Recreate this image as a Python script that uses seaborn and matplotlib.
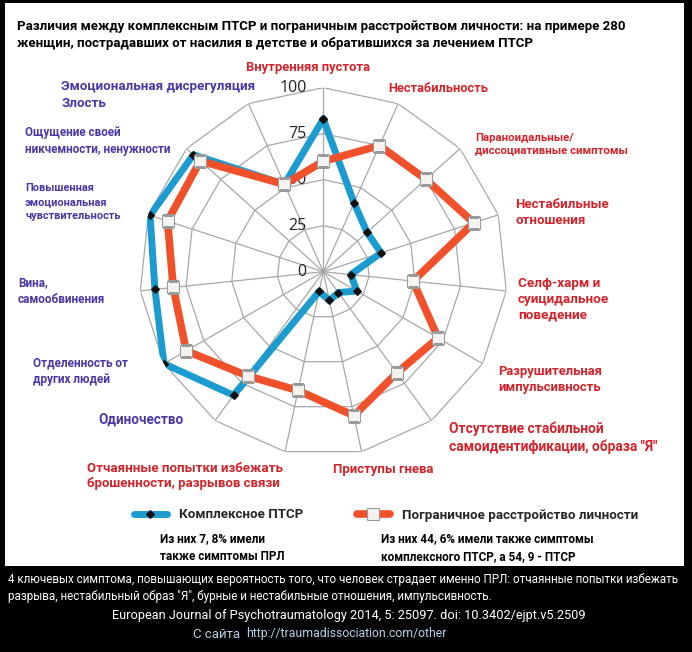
import numpy as np
import pandas as pd
import matplotlib
matplotlib.use("Agg")
import matplotlib.pyplot as plt
import seaborn as sns
from matplotlib.patches import Rectangle

sns.set_theme(style="white")
plt.rcParams['font.family'] = ['Roboto', 'DejaVu Sans']

# ---------------- data ----------------
categories = [
    "Внутренняя пустота",
    "Нестабильность",
    "Параноидальные/\nдиссоциативные симптомы",
    "Нестабильные\nотношения",
    "Селф-харм и\nсуицидальное\nповедение",
    "Разрушительная\nимпульсивность",
    "Отсутствие стабильной\nсамоидентификации, образа \"Я\"",
    "Приступы гнева",
    "Отчаянные попытки избежать\nброшенности, разрывов связи",
    "Одиночество",
    "Отделенность от\nдругих людей",
    "Вина,\nсамообвинения",
    "Повышенная\nэмоциональная\nчувствительность",
    "Ощущение своей\nникчемности, ненужности",
    "Эмоциональная дисрегуляция\nЗлость",
]
cptsd = [83, 41, 32, 33, 15, 21, 14, 16, 11, 83, 100, 92, 99, 95, 52]
bpd = [60, 75, 75, 86, 49, 72, 68, 80, 66, 70, 86, 82, 89, 90, 52]
ring_ticks = [0, 25, 50, 75, 100]
series_names = ["Комплексное ПТСР", "Пограничное расстройство личности"]
notes = ["Из них 7, 8% имели\nтакже симптомы ПРЛ",
         "Из них 44, 6% имели также симптомы\nкомплексного ПТСР, а 54, 9 - ПТСР"]
title = ("Различия между комплексным ПТСР и пограничным расстройством личности: на примере 280\n"
         "женщин, пострадавших от насилия в детстве и обратившихся за лечением ПТСР")
footer1 = ("4 ключевых симптома, повышающих вероятность того, что человек страдает именно ПРЛ: отчаянные попытки избежать\n"
           "разрыва, нестабильный образ \"Я\", бурные и нестабильные отношения, импульсивность.")
footer2 = "European Journal of Psychotraumatology 2014, 5: 25097. doi: 10.3402/ejpt.v5.2509"
footer3a = "С сайта"
footer3b = "http://traumadissociation.com/other"

# ---------------- figure ----------------
W, H = 692, 652
fig = plt.figure(figsize=(W / 100, H / 100), dpi=100, facecolor="black")
fig.patches.append(Rectangle((5 / W, 1 - 566 / H), 679 / W, 563 / H,
                             transform=fig.transFigure, facecolor="white",
                             edgecolor="none", zorder=-5))
renderer = fig.canvas.get_renderer()


def fx(px):
    return px / W


def fy(py):
    return 1 - py / H


def fit(t, target):
    bb = t.get_window_extent(renderer)
    t.set_fontsize(t.get_fontsize() * target / bb.width)
    return t


cx, cy, R = 323.3, 271.7, 184.0
ax = fig.add_axes([fx(cx - R), fy(cy + R), 2 * R / W, 2 * R / H], projection="polar")
ax.set_facecolor("none")
ax.set_theta_zero_location("N")
ax.set_theta_direction(-1)
ax.grid(False)
ax.spines["polar"].set_visible(False)

n = len(categories)
angles = np.arange(n) * 2 * np.pi / n
closed_angles = np.append(angles, 2 * np.pi)

# polygon grid
for r in ring_ticks[1:]:
    ax.plot(closed_angles, [r] * (n + 1), color="#a8a8a8", lw=0.9, zorder=1)
for a in angles:
    ax.plot([a, a], [0, 100], color="#a8a8a8", lw=0.9, zorder=1)

df = pd.DataFrame({
    "angle": np.concatenate([closed_angles, closed_angles]),
    "value": cptsd + [cptsd[0]] + bpd + [bpd[0]],
    "series": [series_names[0]] * (n + 1) + [series_names[1]] * (n + 1),
})

blue = "#1b9bd0"
orange = "#f0502a"
d1 = df[df.series == series_names[0]]
d2 = df[df.series == series_names[1]]
sns.lineplot(data=d1, x="angle", y="value", ax=ax, sort=False, estimator=None,
             color=blue, lw=5.0, marker="D", markersize=4.5,
             markerfacecolor="#111111", markeredgecolor="#111111",
             markeredgewidth=0.8, zorder=3, legend=False)
sns.lineplot(data=d2, x="angle", y="value", ax=ax, sort=False, estimator=None,
             color=orange, lw=5.5, marker="s", markersize=8,
             markerfacecolor="#f4f3ef", markeredgecolor="#9a9a9a",
             markeredgewidth=0.8, zorder=4, legend=False)
ax.set_xlabel("")
ax.set_ylabel("")
ax.set_ylim(0, 100)
ax.set_xticks([])
ax.set_yticks([])
ax.grid(False)

for r in ring_ticks:
    ax.annotate(str(r), xy=(0, r), xytext=(-12, 0), textcoords="offset points",
                ha="right", va="center", fontsize=11.5, color="#222222",
                family=["Open Sans", "DejaVu Sans"], zorder=2)

# ---------------- labels ----------------
red = "#d2232a"
purple = "#4a37a6"
lab_fam = ["Roboto", "DejaVu Sans"]
# (x, y_center, ha, color, target width of widest line, linespacing)
label_pos = [
    (308, 67, "center", red, 124, 1.2),
    (388, 89, "left", red, 100, 1.2),
    (475, 144, "left", red, 153, 1.3),
    (515, 212, "left", red, 93, 1.3),
    (518, 299, "left", red, 91, 1.3),
    (498, 380, "left", red, 104, 1.3),
    (449, 438, "left", red, 210, 1.3),
    (333, 470, "left", red, 100, 1.2),
    (87, 476, "left", red, 195, 1.3),
    (98, 420, "left", purple, 85, 1.2),
    (33, 371, "left", purple, 95, 1.3),
    (18, 291, "left", purple, 88, 1.35),
    (25, 202, "left", purple, 96, 1.55),
    (25, 141, "left", purple, 146, 1.35),
    (61, 95, "left", purple, 195, 1.35),
]
for lab, (x, y, ha, c, tw, ls) in zip(categories, label_pos):
    t = fig.text(fx(x), fy(y), lab, ha=ha, va="center", color=c, fontsize=10,
                 fontweight="bold", family=lab_fam, linespacing=ls)
    fit(t, tw)

fit(fig.text(fx(17), fy(35), title, ha="left", va="center", fontsize=10.8,
             fontweight="bold", color="black", family=lab_fam, linespacing=1.4), 609)

# legend
leg = fig.legend(handles=ax.get_lines()[-2:], labels=series_names, ncol=2,
                 loc="center", bbox_to_anchor=(fx(386), fy(515)), frameon=False,
                 prop={"family": lab_fam, "weight": "bold", "size": 9.6},
                 handlelength=2.5, columnspacing=4.0, handletextpad=0.9)

n2 = fit(fig.text(fx(381), fy(548), notes[1], ha="left", va="center", fontsize=8.3,
                  fontweight="bold", family=lab_fam, color="black", linespacing=1.5), 214)
fig.text(fx(160), fy(548), notes[0], ha="left", va="center", fontsize=n2.get_fontsize(),
         fontweight="bold", family=lab_fam, color="black", linespacing=1.5)

fit(fig.text(fx(8), fy(588), footer1, ha="left", va="center", fontsize=9.6,
             color="white", family=lab_fam, linespacing=1.4), 675)
fit(fig.text(fx(349), fy(615), footer2, ha="center", va="center", fontsize=9.6,
             color="white", family=lab_fam), 474)
fit(fig.text(fx(193), fy(634), footer3a, ha="left", va="center", fontsize=8.5,
             color="#b8d0ea", family=lab_fam), 47)
fit(fig.text(fx(246), fy(634), footer3b, ha="left", va="center", fontsize=9.3,
             color="#b8d0ea", family=lab_fam), 200)

fig.savefig("out.png", dpi=100, facecolor="black")
